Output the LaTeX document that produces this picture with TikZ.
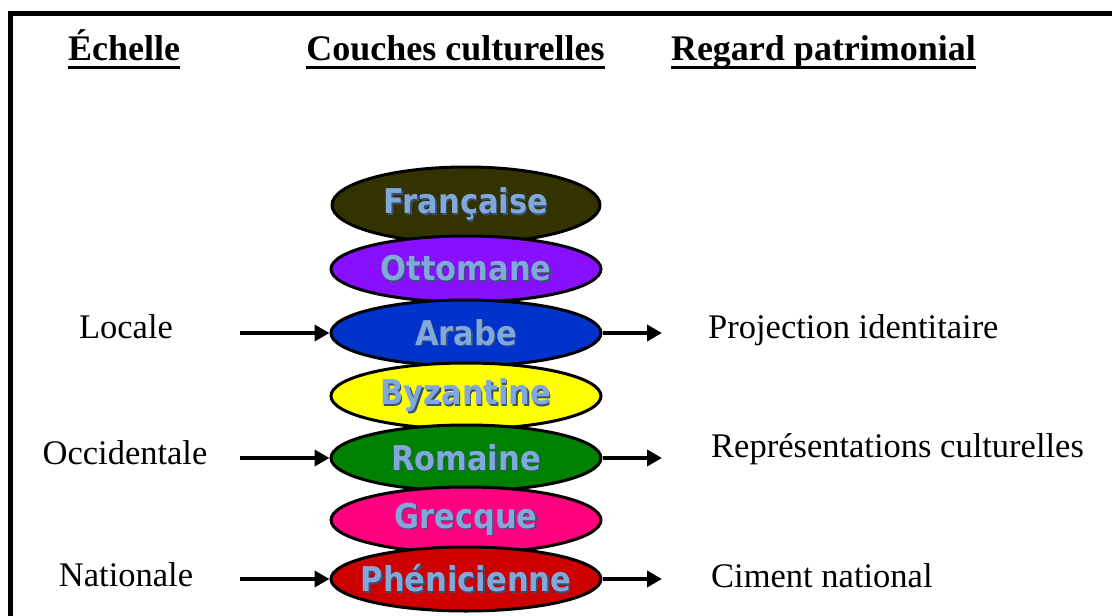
\documentclass[tikz,border=0pt]{standalone}
\usepackage{fontspec}
\setmainfont{Liberation Serif}
\newfontfamily\layerfont{DejaVu Sans}
\usetikzlibrary{arrows.meta,shapes.geometric}

\definecolor{francaisecol}{RGB}{51,51,0}
\definecolor{ottomanecol}{RGB}{136,16,255}
\definecolor{arabecol}{RGB}{0,51,204}
\definecolor{byzantinecol}{RGB}{255,255,0}
\definecolor{romainecol}{RGB}{0,128,0}
\definecolor{grecquecol}{RGB}{255,0,128}
\definecolor{pheniciennecol}{RGB}{204,0,0}
\definecolor{layertext}{RGB}{128,168,218}
\definecolor{layeredge}{RGB}{55,80,120}

% light blue label with a thin dark edge below it, no width of its own
\newcommand{\layerlabel}[1]{\makebox[0pt]{\scalebox{1}[1.12]{\rlap{\hspace{1.3pt}\raisebox{-1.3pt}{\textcolor{layeredge}{#1}}}\textcolor{layertext}{#1}}}}

\begin{document}
\begin{tikzpicture}[
  x=1pt,y=-1pt,
  layer/.style={ellipse,draw=black,line width=3pt,minimum width=270pt,minimum height=66pt,inner sep=0pt,
    font=\layerfont\bfseries\fontsize{30.5pt}{30.5pt}\selectfont},
  heading/.style={inner sep=0pt,anchor=base,font=\bfseries\fontsize{36pt}{36pt}\selectfont},
  scale label/.style={inner sep=0pt,anchor=base,font=\fontsize{34.5pt}{34.5pt}\selectfont},
  view label/.style={inner sep=0pt,anchor=base west,font=\fontsize{34.5pt}{34.5pt}\selectfont},
  flow/.style={-{Triangle[length=15pt,width=16pt]},line width=4.5pt}
]
  \useasboundingbox (0,0) rectangle (1112,616);
  \fill[white] (0,0) rectangle (1112,616);
  \draw[line width=5.5pt,line join=miter] (10.5,620) -- (10.5,13.5) -- (1116,13.5);

  % column headings
  \node[heading] (echelle) at (124,60) {Échelle};
  \node[heading] (couches) at (455.5,60) {Couches culturelles};
  \node[heading] (regard) at (823.5,60) {Regard patrimonial};
  \foreach \h in {echelle,couches,regard}
    \draw[line width=3pt] (\h.west |- 0,67.5) -- (\h.east |- 0,67.5);

  % cultural layers, top to bottom
  \node[layer,fill=francaisecol,minimum height=76pt,minimum width=268pt] (francaise) at (466,205) {\layerlabel{Française}};
  \node[layer,fill=ottomanecol] (ottomane) at (466,269) {\layerlabel{Ottomane}};
  \node[layer,fill=arabecol] (arabe) at (466,333) {\layerlabel{Arabe}};
  \node[layer,fill=byzantinecol] (byzantine) at (466,396) {\layerlabel{Byzantine}};
  \node[layer,fill=romainecol] (romaine) at (466,458) {\layerlabel{Romaine}};
  \node[layer,fill=grecquecol] (grecque) at (466,520) {\layerlabel{Grecque}};
  \node[layer,fill=pheniciennecol,minimum height=64pt] (phenicienne) at (466,579) {\layerlabel{Phénicienne}};

  % scales (left)
  \node[scale label] (locale) at (126,338) {Locale};
  \node[scale label] (occidentale) at (125,464) {Occidentale};
  \node[scale label] (nationale) at (126,586) {Nationale};

  % heritage views (right)
  \node[view label] (projection) at (708,338) {Projection identitaire};
  \node[view label] (representations) at (711,457) {Représentations culturelles};
  \node[view label] (ciment) at (711,587) {Ciment national};

  \coordinate (la) at (240,333);
  \coordinate (oa) at (240,458);
  \coordinate (na) at (240,579);
  \coordinate (pa) at (662,333);
  \coordinate (ra) at (662,458);
  \coordinate (ca) at (662,579);
  \draw[flow] (la) -- (arabe.west);
  \draw[flow] (oa) -- (romaine.west);
  \draw[flow] (na) -- (phenicienne.west);
  \draw[flow] (arabe.east) -- (pa);
  \draw[flow] (romaine.east) -- (ra);
  \draw[flow] (phenicienne.east) -- (ca);
\end{tikzpicture}
\end{document}
